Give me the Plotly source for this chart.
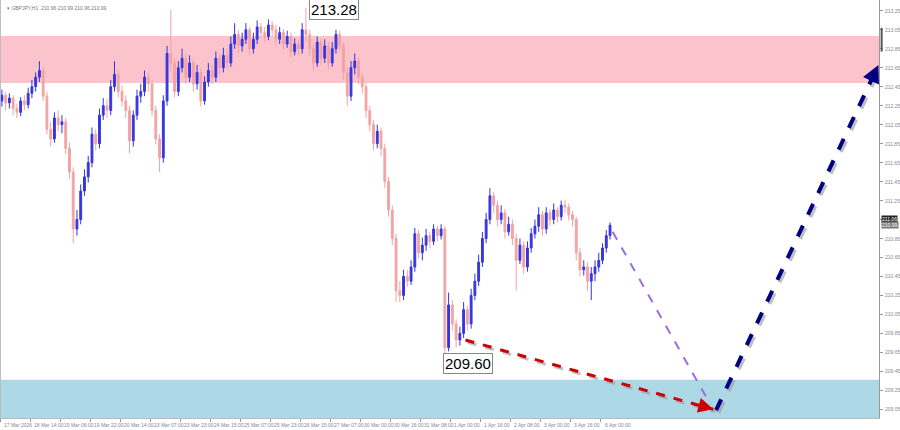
import plotly.graph_objects as go

# ---------------- data (GBPJPY H1, 2-hour sampled bars) ----------------
bar_hours_step = 2
opens = [
212.30, 212.36, 212.28, 212.33, 212.22, 212.18, 212.30, 212.26, 212.38, 212.45,
212.55, 212.62, 212.35, 212.00, 211.90, 212.12, 212.05, 212.08, 211.80, 211.55,
210.95, 211.05, 211.35, 211.50, 211.65, 211.95, 211.85, 212.15, 212.25, 212.20,
212.45, 212.58, 212.40, 212.30, 212.20, 211.88, 212.15, 212.35, 212.40, 212.55,
212.48, 212.20, 211.90, 211.70, 212.30, 212.80, 212.70, 212.40, 212.65, 212.75,
212.55, 212.70, 212.48, 212.60, 212.30, 212.50, 212.62, 212.55, 212.75, 212.65,
212.78, 212.70, 212.90, 213.00, 212.88, 212.95, 213.05, 212.85, 212.95, 213.08,
213.02, 212.98, 213.10, 213.05, 212.95, 213.02, 212.90, 212.98, 212.82, 212.90,
212.85, 213.05, 213.00, 212.85, 212.70, 212.92, 212.75, 212.88, 212.70, 212.85,
213.00, 212.88, 212.60, 212.35, 212.65, 212.72, 212.55, 212.45, 212.20, 212.05,
211.85, 211.98, 211.80, 211.45, 211.15, 210.85, 210.30, 210.25, 210.45, 210.40,
210.55, 210.90, 210.70, 210.78, 210.88, 210.82, 210.95, 210.88, 210.95, 209.70,
210.15, 209.95, 209.78, 209.85, 210.10, 209.95, 210.25, 210.40, 210.60, 210.85,
211.05, 211.30, 211.20, 211.05, 211.12, 210.92, 211.00, 210.85, 210.62, 210.78,
210.55, 210.75, 210.90, 210.98, 211.10, 210.95, 211.12, 211.05, 211.15, 211.08,
211.20, 211.18, 211.10, 211.05, 210.70, 210.52, 210.55, 210.40, 210.48, 210.55,
210.62, 210.75, 210.88]
highs = [
212.42, 212.40, 212.38, 212.36, 212.27, 212.34, 212.36, 212.44, 212.52, 212.60,
212.72, 212.66, 212.40, 212.08, 212.18, 212.20, 212.15, 212.12, 211.86, 211.60,
211.15, 211.42, 211.58, 211.72, 212.02, 212.00, 212.22, 212.33, 212.32, 212.52,
212.72, 212.62, 212.46, 212.36, 212.25, 212.20, 212.42, 212.48, 212.62, 212.60,
212.52, 212.25, 211.95, 212.36, 212.88, 213.26, 212.75, 212.72, 212.85, 212.80,
212.78, 212.74, 212.68, 212.64, 212.56, 212.70, 212.68, 212.82, 212.80, 212.86,
212.84, 212.98, 213.12, 213.05, 213.02, 213.12, 213.08, 213.02, 213.15, 213.12,
213.08, 213.16, 213.14, 213.10, 213.08, 213.06, 213.04, 213.02, 212.96, 212.95,
213.12, 213.28, 213.05, 212.90, 212.98, 212.96, 212.95, 212.92, 212.92, 213.05,
213.04, 212.92, 212.65, 212.72, 212.80, 212.76, 212.60, 212.50, 212.25, 212.10,
212.05, 212.02, 211.85, 211.50, 211.20, 210.90, 210.40, 210.52, 210.52, 210.62,
210.96, 210.94, 210.86, 210.95, 210.92, 211.00, 210.98, 211.00, 210.98, 210.28,
210.20, 210.00, 209.92, 210.18, 210.14, 210.32, 210.48, 210.68, 210.92, 211.12,
211.38, 211.34, 211.25, 211.20, 211.16, 211.08, 211.05, 210.90, 210.85, 210.82,
210.82, 210.96, 211.05, 211.18, 211.14, 211.18, 211.16, 211.22, 211.18, 211.25,
211.26, 211.22, 211.14, 211.08, 210.75, 210.62, 210.60, 210.55, 210.62, 210.70,
210.80, 210.94, 211.02]
lows = [
212.24, 212.20, 212.22, 212.15, 212.12, 212.14, 212.20, 212.22, 212.33, 212.40,
212.50, 212.30, 211.95, 211.82, 211.86, 211.98, 211.96, 211.74, 211.48, 210.80,
210.88, 211.00, 211.30, 211.44, 211.60, 211.78, 211.80, 212.10, 212.12, 212.15,
212.40, 212.34, 212.24, 212.12, 211.75, 211.82, 212.10, 212.28, 212.35, 212.40,
212.14, 211.84, 211.55, 211.65, 212.25, 212.62, 212.34, 212.35, 212.60, 212.48,
212.50, 212.40, 212.42, 212.24, 212.26, 212.45, 212.48, 212.50, 212.58, 212.60,
212.64, 212.66, 212.85, 212.80, 212.82, 212.90, 212.78, 212.80, 212.90, 212.96,
212.92, 212.94, 212.98, 212.88, 212.90, 212.84, 212.86, 212.76, 212.78, 212.78,
212.80, 212.92, 212.78, 212.62, 212.66, 212.68, 212.70, 212.64, 212.66, 212.80,
212.82, 212.52, 212.25, 212.30, 212.58, 212.48, 212.38, 212.12, 211.98, 211.78,
211.80, 211.72, 211.38, 211.08, 210.78, 210.18, 210.18, 210.20, 210.34, 210.36,
210.50, 210.64, 210.62, 210.72, 210.75, 210.78, 210.82, 210.84, 209.60, 209.66,
209.88, 209.70, 209.72, 209.80, 209.88, 209.90, 210.20, 210.35, 210.55, 210.80,
211.00, 211.12, 210.98, 211.00, 210.85, 210.88, 210.78, 210.30, 210.58, 210.48,
210.50, 210.70, 210.85, 210.92, 210.88, 210.90, 210.98, 211.00, 211.02, 211.04,
211.12, 211.04, 210.98, 210.62, 210.45, 210.46, 210.30, 210.20, 210.40, 210.50,
210.58, 210.70, 210.84]
closes = [
212.36, 212.28, 212.33, 212.22, 212.18, 212.30, 212.26, 212.38, 212.45, 212.55,
212.62, 212.35, 212.00, 211.90, 212.12, 212.05, 212.08, 211.80, 211.55, 210.95,
211.05, 211.35, 211.50, 211.65, 211.95, 211.85, 212.15, 212.25, 212.20, 212.45,
212.58, 212.40, 212.30, 212.20, 211.88, 212.15, 212.35, 212.40, 212.55, 212.48,
212.20, 211.90, 211.70, 212.30, 212.80, 212.70, 212.40, 212.65, 212.75, 212.55,
212.70, 212.48, 212.60, 212.30, 212.50, 212.62, 212.55, 212.75, 212.65, 212.78,
212.70, 212.90, 213.00, 212.88, 212.95, 213.05, 212.85, 212.95, 213.08, 213.02,
212.98, 213.10, 213.05, 212.95, 213.02, 212.90, 212.98, 212.82, 212.90, 212.85,
213.05, 213.00, 212.85, 212.70, 212.92, 212.75, 212.88, 212.70, 212.85, 213.00,
212.88, 212.60, 212.35, 212.65, 212.72, 212.55, 212.45, 212.20, 212.05, 211.85,
211.98, 211.80, 211.45, 211.15, 210.85, 210.30, 210.25, 210.45, 210.40, 210.55,
210.90, 210.70, 210.78, 210.88, 210.82, 210.95, 210.88, 210.95, 209.70, 210.15,
209.95, 209.78, 209.85, 210.10, 209.95, 210.25, 210.40, 210.60, 210.85, 211.05,
211.30, 211.20, 211.05, 211.12, 210.92, 211.00, 210.85, 210.62, 210.78, 210.55,
210.75, 210.90, 210.98, 211.10, 210.95, 211.12, 211.05, 211.15, 211.08, 211.20,
211.18, 211.10, 211.05, 210.70, 210.52, 210.55, 210.40, 210.48, 210.55, 210.62,
210.75, 210.88, 210.99]

# time axis in hours since chart start
x_hours = [i * bar_hours_step for i in range(len(closes))]
tick_hours = [-1, 15, 31, 47, 63, 79, 95, 111, 127, 143, 159, 175, 191, 207, 223,
              239, 255, 271, 287, 303, 319]
tick_labels = ["17 Mar 2026", "18 Mar 14:00", "19 Mar 06:00", "19 Mar 22:00",
               "20 Mar 14:00", "23 Mar 07:00", "23 Mar 23:00", "24 Mar 15:00",
               "25 Mar 07:00", "25 Mar 23:00", "26 Mar 15:00", "27 Mar 07:00",
               "30 Mar 00:00", "30 Mar 16:00", "31 Mar 08:00", "1 Apr 00:00",
               "1 Apr 16:00", "2 Apr 08:00", "3 Apr 00:00", "3 Apr 16:00",
               "6 Apr 00:00"]
price_ticks = [213.25, 213.05, 212.85, 212.65, 212.45, 212.25, 212.05, 211.85,
               211.65, 211.45, 211.25, 211.05, 210.85, 210.65, 210.45, 210.25,
               210.05, 209.85, 209.65, 209.45, 209.25, 209.05]
hidden_price_labels = [211.05]  # covered by the current-price tags

# current price tags
bid_tag = 211.06
ask_tag = 210.99

# zones (price)
resistance_zone = [212.49, 212.985]
support_zone = [208.90, 209.36]

# forecast paths (hours, price)
purple_x = [325.4, 377.5]
purple_y = [210.92, 209.10]
red_x = [247.0, 379.0]
red_y = [209.78, 209.05]
navy_x = [380.5, 467.0]
navy_y = [209.04, 212.68]

hi_label = ("213.28", 213.28, 162)
lo_label = ("209.60", 209.60, 236)

x_range = [-1, 467.3]
y_range = [208.958, 213.364]

FONT = "Liberation Sans, Arial"

# ---------------- figure ----------------
fig = go.Figure()

fig.add_shape(type="rect", xref="paper", x0=0, x1=1, yref="y",
              y0=resistance_zone[0], y1=resistance_zone[1],
              fillcolor="#fbc3cc", line_width=0, layer="below")
fig.add_shape(type="rect", xref="paper", x0=0, x1=1, yref="y",
              y0=support_zone[0], y1=support_zone[1],
              fillcolor="#add8e6", line_width=0, layer="below")

fig.add_trace(go.Candlestick(
    x=x_hours, open=opens, high=highs, low=lows, close=closes,
    increasing=dict(line=dict(color="#3535e0", width=1), fillcolor="#3535e0"),
    decreasing=dict(line=dict(color="#f3a3a3", width=1), fillcolor="#f3a3a3"),
    whiskerwidth=0, showlegend=False, hoverinfo="skip"))

# shadows
dx, dy = 1.2, -0.025
for xs, ys, w in [(red_x, red_y, 3), (navy_x, navy_y, 4)]:
    fig.add_trace(go.Scatter(x=[v + dx for v in xs], y=[v + dy for v in ys],
                             mode="lines", line=dict(color="rgba(150,150,150,0.6)", width=w, dash="dash"),
                             showlegend=False, hoverinfo="skip"))

fig.add_trace(go.Scatter(x=purple_x, y=purple_y, mode="lines",
                         line=dict(color="#9b6de0", width=2, dash="dash"),
                         showlegend=False, hoverinfo="skip"))
fig.add_trace(go.Scatter(x=red_x, y=red_y, mode="lines",
                         line=dict(color="#cc0000", width=3, dash="dash"),
                         showlegend=False, hoverinfo="skip"))
fig.add_trace(go.Scatter(x=navy_x, y=navy_y, mode="lines",
                         line=dict(color="#000080", width=4, dash="dash"),
                         showlegend=False, hoverinfo="skip"))

# arrowheads
def head(xs, ys, color, width, size):
    fx = xs[1] - (xs[1] - xs[0]) * 0.04
    fy = ys[1] - (ys[1] - ys[0]) * 0.04
    fig.add_annotation(x=xs[1], y=ys[1], ax=fx, ay=fy, xref="x", yref="y",
                       axref="x", ayref="y", text="", showarrow=True,
                       arrowhead=2, arrowsize=size, arrowwidth=width, arrowcolor=color)

head(red_x, red_y, "#cc0000", 3, 1.0)
head(navy_x, navy_y, "#000080", 3.5, 1.0)

# high / low labels
txt, price, xh = hi_label
fig.add_annotation(x=xh + 1.5, y=price - 0.02, xref="x", yref="y", text=txt,
                   showarrow=False, xanchor="left", yanchor="middle",
                   font=dict(family=FONT, size=15, color="#000"),
                   bgcolor="white", bordercolor="#888", borderwidth=1, borderpad=1)
txt, price, xh = lo_label
fig.add_annotation(x=xh - 1, y=price - 0.065, xref="x", yref="y", text=txt,
                   showarrow=False, xanchor="left", yanchor="middle",
                   font=dict(family=FONT, size=15, color="#000"),
                   bgcolor="white", bordercolor="#888", borderwidth=1, borderpad=1)

# header
fig.add_annotation(x=0.006, y=0.994, xref="paper", yref="paper",
                   text="▾ GBPJPY,H1  210.96 210.99 210.96 210.99", showarrow=False,
                   xanchor="left", yanchor="top",
                   font=dict(family=FONT, size=5, color="#777"))

# x tick labels (left-aligned after each tick, MT4 style)
for h, lab in zip(tick_hours, tick_labels):
    fig.add_annotation(x=h + 1.0, y=0, xref="x", yref="paper", yshift=-2,
                       text=lab, showarrow=False, xanchor="left", yanchor="top",
                       font=dict(family=FONT, size=5, color="#888"))

# y tick labels
for p in price_ticks:
    if p in hidden_price_labels:
        continue
    fig.add_annotation(x=1, y=p, xref="paper", yref="y", xshift=4,
                       text=f"{p:.2f}", showarrow=False, xanchor="left", yanchor="middle",
                       font=dict(family=FONT, size=5, color="#888"))

# current price tags on the axis
fig.add_annotation(x=1, y=bid_tag, xref="paper", yref="y", xshift=2, text=f"{bid_tag:.2f}",
                   showarrow=False, xanchor="left", yanchor="middle",
                   font=dict(family=FONT, size=5, color="white"),
                   bgcolor="#222", borderpad=0)
fig.add_annotation(x=1, y=ask_tag, xref="paper", yref="y", xshift=2, text=f"{ask_tag:.2f}",
                   showarrow=False, xanchor="left", yanchor="middle",
                   font=dict(family=FONT, size=5, color="white"),
                   bgcolor="#777", borderpad=0)
fig.add_shape(type="line", xref="paper", x0=1.003, x1=1.003, yref="y",
              y0=212.82, y1=213.07, line=dict(color="#555", width=2))
fig.add_shape(type="line", xref="paper", x0=0.0005, x1=0.0005, yref="paper",
              y0=0, y1=1, line=dict(color="#bbb", width=1))

fig.update_layout(
    width=900, height=430,
    margin=dict(l=0, r=21, t=0, b=12, autoexpand=False),
    paper_bgcolor="white", plot_bgcolor="white",
    font=dict(family=FONT),
    xaxis=dict(range=x_range, tickmode="array", tickvals=tick_hours,
               showticklabels=False, automargin=False,
               ticks="outside", ticklen=3, tickcolor="#999",
               showgrid=False, zeroline=False, rangeslider=dict(visible=False),
               showline=True, linecolor="#bbb", linewidth=1),
    yaxis=dict(range=y_range, side="right", tickmode="array", tickvals=price_ticks,
               showticklabels=False, automargin=False,
               ticks="outside", ticklen=3, tickcolor="#999",
               showgrid=False, zeroline=False,
               showline=True, linecolor="#999", linewidth=1),
)

fig.write_html("out.html", config={"displayModeBar": False},
               post_script="document.body.style.margin='0';document.body.style.overflow='hidden';")
